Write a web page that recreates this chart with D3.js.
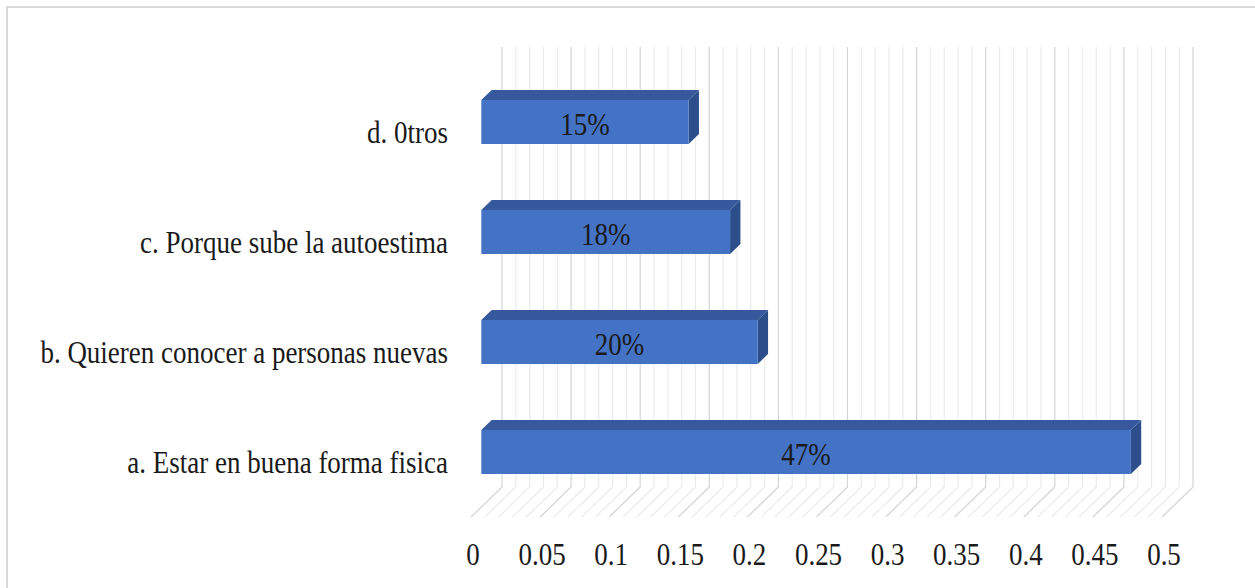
<!DOCTYPE html>
<html>
<head>
<meta charset="utf-8">
<script src="https://cdn.jsdelivr.net/npm/d3@7"></script>
<style>
  body { margin: 0; background: #fff; }
</style>
</head>
<body>
<div id="chart"></div>
<script>
// data
var categories = ["d. 0tros", "c. Porque sube la autoestima", "b. Quieren conocer a personas nuevas", "a. Estar en buena forma fisica"];
var values = [0.15, 0.18, 0.20, 0.47];
var valueLabels = ["15%", "18%", "20%", "47%"];
var tickValues = [0, 0.05, 0.1, 0.15, 0.2, 0.25, 0.3, 0.35, 0.4, 0.45, 0.5];

var width = 1255, height = 588;
var originX = 471, floorY = 517;   // front-left corner of the floor
var depthX = 31, depthY = 30;      // depth vector, front -> back wall
var wallTop = 47;
var fDepth = 1 / 3, bDepth = 2 / 3; // bar sits in the middle of the depth
var serif = "'Liberation Serif', 'DejaVu Serif', serif";

var svg = d3.select("#chart").append("svg")
  .attr("width", width)
  .attr("height", height)
  .attr("font-family", serif);

svg.append("rect")
  .attr("x", 7).attr("y", 7)
  .attr("width", width + 20).attr("height", height + 20)
  .attr("fill", "none")
  .attr("stroke", "#d9d9d9")
  .attr("stroke-width", 2);

var x = d3.scaleLinear().domain([0, 0.5]).range([0, 691]);

// y band at the bar front plane
var y = d3.scaleBand()
  .domain(categories)
  .range([wallTop + depthY * (1 - fDepth), floorY - depthY * fDepth])
  .paddingInner(0.6)
  .paddingOuter(0.3);

function px(v, d) { return originX + x(v) + d * depthX; }

var grid = svg.append("g").attr("class", "grid");
var minor = x.ticks(50);

minor.forEach(function(t) {
  var major = tickValues.some(function(m) { return Math.abs(m - t) < 1e-9; });
  var col = major ? "#d4d4d4" : "#ebebeb";
  grid.append("line")
    .attr("x1", px(t, 1)).attr("x2", px(t, 1))
    .attr("y1", wallTop).attr("y2", floorY - depthY)
    .attr("stroke", col).attr("stroke-width", 1.2);
  grid.append("line")
    .attr("x1", px(t, 1)).attr("y1", floorY - depthY)
    .attr("x2", px(t, 0)).attr("y2", floorY)
    .attr("stroke", col).attr("stroke-width", 1.2);
});

// bars
var bars = svg.append("g").attr("class", "bars");
var dd = (bDepth - fDepth) * depthY;

categories.forEach(function(c, i) {
  var v = values[i];
  var y0 = y(c), y1 = y(c) + y.bandwidth();
  var xl = px(0, fDepth), xr = px(v, fDepth);
  var xlb = px(0, bDepth), xrb = px(v, bDepth);

  bars.append("polygon")
    .attr("points", [[xr, y0], [xrb, y0 - dd], [xrb, y1 - dd], [xr, y1]].join(" "))
    .attr("fill", "#2c4f8c");
  bars.append("polygon")
    .attr("points", [[xl, y0], [xr, y0], [xrb, y0 - dd], [xlb, y0 - dd]].join(" "))
    .attr("fill", "#36599d");
  bars.append("rect")
    .attr("x", xl).attr("y", y0)
    .attr("width", xr - xl).attr("height", y1 - y0)
    .attr("fill", "#4472c4");

  bars.append("text")
    .attr("transform", "translate(" + ((xl + xr) / 2) + "," + (y0 + y.bandwidth() / 2 + 13) + ") scale(1,1.15)")
    .attr("text-anchor", "middle")
    .attr("font-family", serif)
    .attr("font-size", 27)
    .attr("fill", "#1a1a1a")
    .text(valueLabels[i]);
});

// category labels
svg.append("g").selectAll("text")
  .data(categories)
  .join("text")
  .attr("transform", function(d) { return "translate(448," + (y(d) + y.bandwidth() / 2 + 21) + ") scale(1,1.15)"; })
  .attr("text-anchor", "end")
  .attr("font-family", serif)
  .attr("font-size", 27)
  .attr("fill", "#1a1a1a")
  .text(function(d) { return d; });

// value axis labels
svg.append("g").selectAll("text")
  .data(tickValues)
  .join("text")
  .attr("transform", function(d) { return "translate(" + (px(d, 0) + 2) + ",565) scale(1,1.15)"; })
  .attr("text-anchor", "middle")
  .attr("font-family", serif)
  .attr("font-size", 27)
  .attr("fill", "#1a1a1a")
  .text(function(d) { return d3.format("")(d); });
</script>
</body>
</html>
